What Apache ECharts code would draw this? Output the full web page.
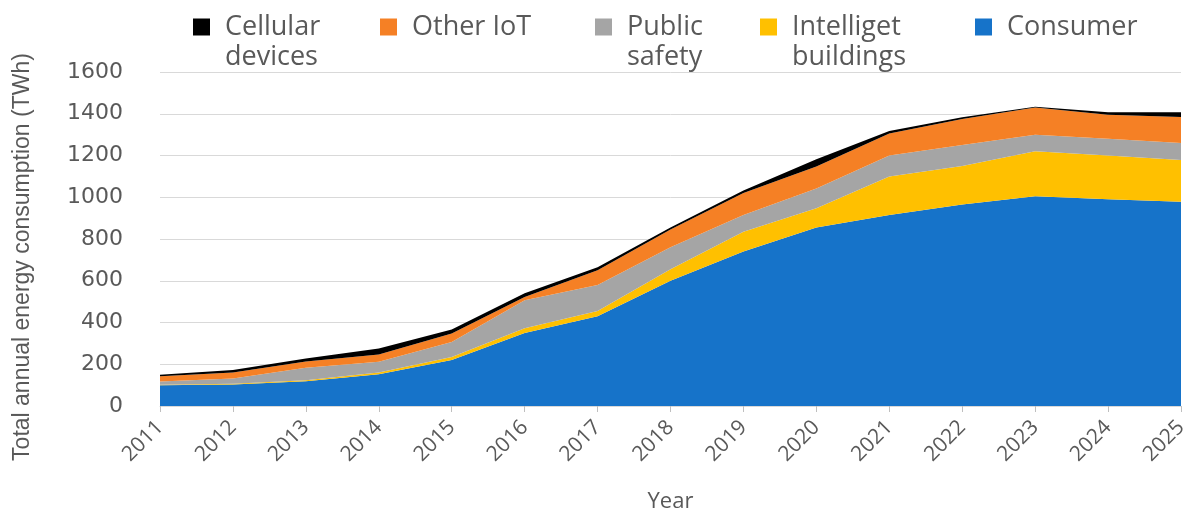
<!DOCTYPE html>
<html>
<head>
<meta charset="utf-8">
<script src="https://cdn.jsdelivr.net/npm/echarts@6/dist/echarts.min.js"></script>
<style>
html,body{margin:0;padding:0;background:#fff;}
#chart{width:1188px;height:508px;}
</style>
</head>
<body>
<div id="chart"></div>
<script>
const years = ['2011','2012','2013','2014','2015','2016','2017','2018','2019','2020','2021','2022','2023','2024','2025'];
const consumer     = [100,103,118,152,220,350,430,600,740,855,915,965,1005,990,978];
const intelligent  = [2,4,5,8,15,22,25,55,95,92,185,185,215,210,200];
const publicSafety = [15,25,60,52,72,135,125,105,80,95,100,100,80,80,82];
const otherIoT     = [25,28,30,35,40,15,70,85,105,105,105,125,130,115,125];
const cellular     = [8,12,15,28,20,18,15,10,12,35,12,8,3,12,22];
const yTicks = [0,200,400,600,800,1000,1200,1400,1600];

const seriesDefs = [
  {name:'Consumer', data:consumer, color:'#1673C9', label:'Consumer'},
  {name:'Intelliget buildings', data:intelligent, color:'#FFC000', label:'Intelliget\nbuildings'},
  {name:'Public safety', data:publicSafety, color:'#A5A5A5', label:'Public\nsafety'},
  {name:'Other IoT', data:otherIoT, color:'#F58025', label:'Other IoT'},
  {name:'Cellular devices', data:cellular, color:'#000000', label:'Cellular\ndevices'}
];
const legendPos = {
  'Cellular devices':193, 'Other IoT':380, 'Public safety':595, 'Intelliget buildings':760, 'Consumer':975
};

const chart = echarts.init(document.getElementById('chart'));
const legends = seriesDefs.slice().reverse().map(s => {
  const multi = s.label.indexOf('\n') >= 0;
  return {
    data:[s.name],
    left: legendPos[s.name],
    top: multi ? -18 : 12,
    padding: 0,
    icon:'rect',
    itemWidth:17,
    itemHeight:17,
    selectedMode:false,
    formatter: () => multi ? (' \n' + s.label) : s.label,
    textStyle:{
      fontFamily:'Open Sans', fontSize:27, color:'#595959', lineHeight:30,
      padding:[0,0,0,10]
    }
  };
});

chart.setOption({
  animation:false,
  backgroundColor:'#ffffff',
  legend: legends,
  grid:{left:160, right:7, top:72, bottom:102, containLabel:false, outerBoundsMode:'none'},
  xAxis:{
    type:'category',
    data:years,
    boundaryGap:false,
    name:'Year',
    nameLocation:'middle',
    nameGap:85,
    nameTextStyle:{fontFamily:'Open Sans', fontSize:22, color:'#595959'},
    axisLine:{lineStyle:{color:'#D9D9D9'}},
    axisTick:{show:true, length:6, lineStyle:{color:'#BFBFBF'}},
    axisLabel:{rotate:45, margin:18, fontFamily:'Open Sans', fontSize:21, color:'#595959'}
  },
  yAxis:{
    type:'value',
    min:yTicks[0], max:yTicks[yTicks.length-1], interval:200,
    name:'Total annual energy consumption (TWh)',
    nameLocation:'middle',
    nameGap:126,
    nameTextStyle:{fontFamily:'Liberation Sans', fontSize:23, color:'#595959', padding:[0,36,0,0]},
    axisLine:{show:false},
    axisTick:{show:false},
    axisLabel:{margin:37, fontFamily:'DejaVu Sans', fontSize:22, color:'#595959', formatter: v => String(v)},
    splitLine:{lineStyle:{color:'#D9D9D9', width:1}}
  },
  series: seriesDefs.map(s => ({
    name:s.name,
    type:'line',
    stack:'total',
    data:s.data,
    showSymbol:false,
    symbol:'none',
    lineStyle:{width:0},
    itemStyle:{color:s.color},
    areaStyle:{color:s.color, opacity:1}
  }))
});
</script>
</body>
</html>
